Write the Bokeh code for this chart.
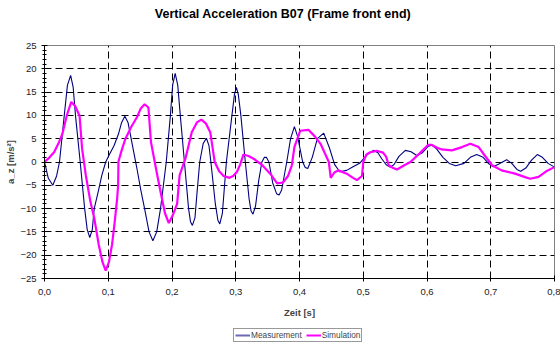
from bokeh.plotting import figure
from bokeh.models import FixedTicker, Legend, LegendItem, Range1d, Label
from bokeh.layouts import column
from bokeh.embed import file_html
from bokeh.resources import INLINE

title_text = "Vertical Acceleration B07 (Frame front end)"
x_label = "Zeit [s]"
y_label = "a_z [m/s²]"
x_ticks = [0.0, 0.1, 0.2, 0.3, 0.4, 0.5, 0.6, 0.7, 0.8]
x_tick_labels = ["0,0", "0,1", "0,2", "0,3", "0,4", "0,5", "0,6", "0,7", "0,8"]
y_ticks = [-25, -20, -15, -10, -5, 0, 5, 10, 15, 20, 25]
series_names = ["Measurement", "Simulation"]

meas_t = [0.000, 0.006, 0.013, 0.019, 0.0235, 0.031, 0.036, 0.041, 0.045, 0.0486,
          0.056, 0.063, 0.067, 0.071, 0.075, 0.078, 0.084, 0.090, 0.096, 0.101,
          0.109, 0.116, 0.121, 0.126, 0.131, 0.140, 0.145, 0.151, 0.157, 0.164,
          0.170, 0.176, 0.182, 0.191, 0.1975, 0.201, 0.205, 0.209, 0.213, 0.2195,
          0.226, 0.229, 0.232, 0.236, 0.239, 0.2435, 0.249, 0.254, 0.258, 0.261,
          0.268, 0.272, 0.275, 0.279, 0.2853, 0.294, 0.298, 0.301, 0.304, 0.308,
          0.315, 0.321, 0.324, 0.327, 0.331, 0.336, 0.341, 0.345, 0.348, 0.352,
          0.358, 0.364, 0.368, 0.372, 0.376, 0.380, 0.386, 0.392, 0.397, 0.405,
          0.409, 0.413, 0.420, 0.428, 0.438, 0.447, 0.455, 0.463, 0.474, 0.484,
          0.495, 0.506, 0.516, 0.523, 0.529, 0.536, 0.542, 0.548, 0.556, 0.566,
          0.575, 0.584, 0.593, 0.602, 0.608, 0.615, 0.625, 0.635, 0.645, 0.658,
          0.668, 0.678, 0.688, 0.697, 0.704, 0.712, 0.725, 0.733, 0.741, 0.747,
          0.755, 0.764, 0.773, 0.781, 0.790, 0.800]
meas_v = [0.0, -3.5, -5.0, -3.0, 0.0, 10.0, 16.5, 18.6, 16.0, 10.0,
          0.0, -10.0, -14.5, -16.2, -14.5, -10.0, -6.5, -2.8, 0.0, 1.4,
          3.5, 6.0, 8.5, 9.8, 8.5, 2.1, -1.4, -6.0, -10.0, -15.0,
          -16.9, -15.0, -10.0, 0.0, 10.0, 16.5, 19.0, 16.5, 10.0, 0.0,
          -10.0, -12.8, -13.6, -12.0, -7.0, 0.0, 4.0, 5.1, 3.5, 0.0,
          -9.0, -12.5, -13.3, -11.0, 0.0, 10.0, 14.5, 16.0, 14.5, 10.0,
          0.0, -8.0, -10.5, -11.2, -9.5, -4.0, 0.0, 1.0, 1.0, 0.0,
          -4.5, -6.8, -7.1, -6.0, -3.0, 0.0, 5.0, 7.6, 5.5, 0.0,
          -1.2, -1.4, 1.0, 5.0, 6.2, 3.0, -0.5, -2.1, -1.8, -1.0,
          -0.2, 1.6, 2.5, 2.0, 0.7, -0.6, -1.1, -0.6, 1.2, 2.5,
          2.2, 1.4, 2.0, 3.4, 3.6, 2.8, 1.0, -0.3, -0.8, -0.3,
          1.0, 1.6, 1.0, -0.4, -1.0, -0.5, 0.5, -0.3, -1.6, -2.0,
          -1.3, 0.4, 1.6, 1.0, -0.3, -1.1]

sim_t = [0.000, 0.008, 0.015, 0.022, 0.028, 0.035, 0.042, 0.048, 0.053, 0.055,
         0.059, 0.065, 0.072, 0.078, 0.085, 0.091, 0.096, 0.101, 0.106, 0.110,
         0.114, 0.1155, 0.116, 0.121, 0.127, 0.136, 0.145, 0.151, 0.157, 0.163,
         0.167, 0.175, 0.182, 0.189, 0.195, 0.201, 0.208, 0.212, 0.221, 0.231,
         0.239, 0.246, 0.253, 0.260, 0.267, 0.274, 0.281, 0.290, 0.296, 0.302,
         0.307, 0.312, 0.320, 0.328, 0.341, 0.354, 0.365, 0.374, 0.382, 0.388,
         0.392, 0.401, 0.414, 0.424, 0.433, 0.446, 0.449, 0.455, 0.461, 0.474,
         0.484, 0.490, 0.498, 0.500, 0.505, 0.511, 0.521, 0.531, 0.536, 0.540,
         0.547, 0.553, 0.563, 0.574, 0.588, 0.602, 0.607, 0.615, 0.623, 0.639,
         0.655, 0.668, 0.681, 0.690, 0.702, 0.717, 0.738, 0.755, 0.762, 0.775,
         0.787, 0.800]
sim_v = [0.0, 1.0, 2.1, 4.0, 6.0, 10.0, 12.9, 12.0, 10.5, 9.9,
         2.8, -3.0, -8.5, -12.0, -17.7, -21.5, -23.3, -21.5, -17.7, -13.0,
         -7.8, -5.0, 0.1, 2.5, 5.0, 7.5, 9.6, 11.5, 12.4, 11.7,
         4.3, -1.5, -6.4, -11.0, -13.1, -11.5, -9.0, -2.8, 0.7, 6.4,
         8.5, 9.1, 8.3, 6.4, 0.0, -2.0, -3.0, -3.4, -3.0, -2.1,
         -0.5, 1.6, 1.3, 0.7, -0.6, -2.5, -4.6, -4.4, -3.0, -0.7,
         3.2, 6.7, 6.9, 5.5, 3.9, 0.0, -3.4, -2.2, -1.8, -2.5,
         -3.4, -3.9, -3.0, 0.0, 1.6, 2.1, 2.4, 2.0, 1.1, -0.7,
         -1.3, -1.6, -0.8, 0.0, 1.8, 3.7, 3.7, 3.1, 2.7, 2.5,
         3.2, 3.9, 3.2, 1.5, -0.7, -1.8, -2.5, -3.3, -3.6, -3.2,
         -2.0, -1.1]

FONT = "Liberation Sans"
MEAS_COLOR = "#000080"
SIM_COLOR = "#FF00FF"

# the column aligns every strip's frame with the chart frame (canvas x 44..554)
FRAME_L, FRAME_R = 44, 554


def strip(height, xr, yr):
    f = figure(width=560, height=height, output_backend="svg", toolbar_location=None,
               x_range=Range1d(*xr), y_range=Range1d(*yr),
               x_axis_location=None, y_axis_location=None,
               min_border=0, min_border_left=0, min_border_right=0,
               min_border_top=0, min_border_bottom=0)
    f.grid.visible = False
    f.outline_line_color = None
    f.background_fill_color = "white"
    f.border_fill_color = "white"
    return f


# title strip (x in canvas pixels)
tp = strip(25, (FRAME_L, FRAME_R), (0, 25))
tp.add_layout(Label(x=282.5, y=12, text=title_text, text_font=FONT,
                    text_font_style="bold", text_font_size="12.5px",
                    text_align="center", text_baseline="middle", text_color="black"))

# main chart
p = figure(width=560, height=295, output_backend="svg", toolbar_location=None,
           x_range=Range1d(0, 0.8), y_range=Range1d(-25, 25),
           min_border_left=FRAME_L, min_border_right=560 - FRAME_R,
           min_border_top=20, min_border_bottom=40)
p.background_fill_color = "white"
p.border_fill_color = "white"
p.outline_line_color = "#808080"
p.outline_line_width = 1

p.xgrid.ticker = FixedTicker(ticks=x_ticks)
p.ygrid.ticker = FixedTicker(ticks=y_ticks)
for g in (p.xgrid, p.ygrid):
    g.grid_line_color = "black"
    g.grid_line_width = 1
    g.grid_line_dash = "7 4"

xa = p.xaxis[0]
xa.ticker = FixedTicker(ticks=x_ticks)
xa.major_label_overrides = {t: l for t, l in zip(x_ticks, x_tick_labels)}
xa.axis_label = x_label
xa.axis_label_text_font = FONT
xa.axis_label_text_font_style = "bold"
xa.axis_label_text_font_size = "9.5px"
xa.axis_label_standoff = 9
xa.major_label_text_font = FONT
xa.major_label_text_font_size = "9.5px"
xa.major_label_text_color = "#222222"
xa.major_label_standoff = 7
xa.major_tick_in = 3
xa.major_tick_out = 3
xa.minor_tick_line_color = None
xa.axis_line_color = "black"
xa.major_tick_line_color = "black"

ya = p.yaxis[0]
ya.ticker = FixedTicker(ticks=y_ticks, minor_ticks=list(range(-25, 26)))
ya.axis_label = y_label
ya.axis_label_text_font = FONT
ya.axis_label_text_font_style = "bold"
ya.axis_label_text_font_size = "9.5px"
ya.axis_label_standoff = 1
ya.major_label_text_font = FONT
ya.major_label_text_font_size = "9.5px"
ya.major_label_text_color = "#222222"
ya.major_label_standoff = 5
ya.major_tick_in = 3
ya.major_tick_out = 3
ya.minor_tick_in = 2
ya.minor_tick_out = 2
ya.axis_line_color = "black"
ya.major_tick_line_color = "black"
ya.minor_tick_line_color = "black"

p.line(meas_t, meas_v, line_color=MEAS_COLOR, line_width=1.1)
p.line(sim_t, sim_v, line_color=SIM_COLOR, line_width=2.2)

# legend strip: same series, drawn outside its (off-data) y range so only legend shows
lg = strip(26, (0, 0.8), (1000, 1001))
rm = lg.line(meas_t, meas_v, line_color="#6a6ab8", line_width=2)
rs = lg.line(sim_t, sim_v, line_color=SIM_COLOR, line_width=2)
legend = Legend(items=[LegendItem(label=series_names[0], renderers=[rm]),
                       LegendItem(label=series_names[1], renderers=[rs])],
                orientation="horizontal", location=(233 - FRAME_L, 4),
                label_text_font=FONT, label_text_font_size="8.3px",
                label_standoff=1, glyph_width=15, glyph_height=8,
                label_height=8, padding=1, spacing=4, margin=0,
                border_line_color="#333333", border_line_width=1.5,
                background_fill_color="white")
lg.add_layout(legend)

open("out.html", "w").write(file_html(column(tp, p, lg, spacing=0), INLINE))
